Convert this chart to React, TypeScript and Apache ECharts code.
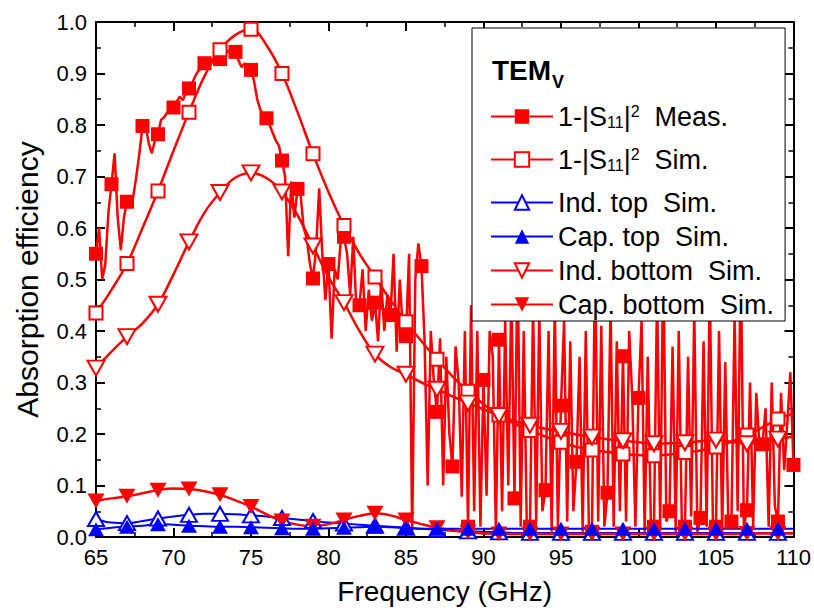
import React, { useEffect, useRef } from 'react';
import * as echarts from 'echarts';

const FONT = '"Liberation Sans", Arial, Helvetica, sans-serif';

// Measured 1-|S11|^2, sampled every 0.2 GHz from 65 GHz (markers every 1 GHz)
const measStart = 65;
const measStep = 0.2;
const measValues = [
  0.55, 0.60, 0.50, 0.53, 0.63,
  0.685, 0.745, 0.62, 0.557, 0.62,
  0.651, 0.645, 0.66, 0.70, 0.745,
  0.798, 0.80, 0.765, 0.745, 0.77,
  0.782, 0.81, 0.815, 0.825, 0.828,
  0.834, 0.845, 0.855, 0.848, 0.862,
  0.871, 0.88, 0.895, 0.905, 0.91,
  0.92, 0.918, 0.925, 0.93, 0.925,
  0.928, 0.935, 0.94, 0.945, 0.935,
  0.942, 0.925, 0.912, 0.92, 0.905,
  0.907, 0.885, 0.85, 0.83, 0.82,
  0.813, 0.80, 0.785, 0.77, 0.76,
  0.731, 0.70, 0.545, 0.69, 0.62,
  0.676, 0.665, 0.60, 0.58, 0.53,
  0.502, 0.56, 0.677, 0.55, 0.46,
  0.530, 0.385, 0.52, 0.50, 0.58,
  0.583, 0.55, 0.47, 0.583, 0.44,
  0.450, 0.52, 0.40, 0.48, 0.42,
  0.455, 0.38, 0.50, 0.40, 0.47,
  0.431, 0.55, 0.36, 0.50, 0.40,
  0.390, 0.55, 0.008, 0.50, 0.57,
  0.526, 0.38, 0.10, 0.40, 0.30,
  0.243, 0.386, 0.10, 0.35, 0.20,
  0.137, 0.37, 0.30, 0.078, 0.40,
  0.020, 0.45, 0.05, 0.40, 0.02,
  0.305, 0.08, 0.40, 0.35, 0.01,
  0.383, 0.05, 0.42, 0.10, 0.48,
  0.075, 0.55, 0.02, 0.40, 0.01,
  0.020, 0.45, 0.03, 0.44, 0.05,
  0.091, 0.40, 0.01, 0.45, 0.02,
  0.255, 0.42, 0.03, 0.38, 0.05,
  0.146, 0.35, 0.01, 0.40, 0.02,
  0.010, 0.55, 0.03, 0.41, 0.02,
  0.086, 0.45, 0.02, 0.38, 0.05,
  0.351, 0.03, 0.40, 0.27, 0.02,
  0.270, 0.42, 0.01, 0.35, 0.03,
  0.02, 0.48, 0.02, 0.55, 0.03,
  0.05, 0.37, 0.01, 0.40, 0.02,
  0.02, 0.35, 0.04, 0.44, 0.01,
  0.037, 0.38, 0.02, 0.50, 0.03,
  0.02, 0.40, 0.01, 0.34, 0.02,
  0.03, 0.43, 0.05, 0.55, 0.02,
  0.052, 0.30, 0.02, 0.28, 0.18,
  0.18, 0.25, 0.02, 0.30, 0.06,
  0.03, 0.28, 0.13, 0.22, 0.32,
  0.14,
];

// Simulated curves, every 1 GHz (markers every 2 GHz)
const simFreq = [
  65, 66, 67, 68, 69, 70, 71, 72, 73, 74, 75, 76, 77, 78, 79, 80,
  81, 82, 83, 84, 85, 86, 87, 88, 89, 90, 91, 92, 93, 94, 95, 96,
  97, 98, 99, 100, 101, 102, 103, 104, 105, 106, 107, 108, 109, 110,
];
const simS11 = [
  0.435, 0.48, 0.531, 0.60, 0.672, 0.75, 0.825, 0.895, 0.946, 0.975, 0.986, 0.955, 0.900, 0.825, 0.744, 0.67,
  0.605, 0.55, 0.505, 0.46, 0.418, 0.38, 0.345, 0.312, 0.283, 0.258, 0.237, 0.22, 0.207, 0.195, 0.184, 0.175,
  0.169, 0.165, 0.161, 0.159, 0.158, 0.16, 0.164, 0.168, 0.175, 0.185, 0.198, 0.213, 0.229, 0.24,
];
const indTop = [
  0.035, 0.028, 0.027, 0.031, 0.036, 0.04, 0.043, 0.045, 0.045, 0.044, 0.042, 0.04, 0.037, 0.034, 0.031, 0.028,
  0.026, 0.024, 0.022, 0.02, 0.018, 0.016, 0.014, 0.012, 0.011, 0.01, 0.009, 0.008, 0.008, 0.008, 0.008, 0.008,
  0.008, 0.008, 0.008, 0.008, 0.008, 0.008, 0.008, 0.008, 0.008, 0.008, 0.008, 0.008, 0.008, 0.008,
];
const capTop = [
  0.015, 0.018, 0.02, 0.022, 0.025, 0.024, 0.022, 0.021, 0.02, 0.02, 0.019, 0.018, 0.017, 0.016, 0.016, 0.017,
  0.018, 0.019, 0.02, 0.019, 0.018, 0.016, 0.016, 0.016, 0.016, 0.016, 0.016, 0.016, 0.016, 0.016, 0.016, 0.016,
  0.016, 0.016, 0.016, 0.016, 0.016, 0.016, 0.016, 0.016, 0.016, 0.016, 0.016, 0.016, 0.016, 0.016,
];
const indBottom = [
  0.328, 0.36, 0.389, 0.415, 0.452, 0.51, 0.573, 0.63, 0.669, 0.698, 0.707, 0.697, 0.670, 0.625, 0.565, 0.505,
  0.455, 0.40, 0.355, 0.33, 0.316, 0.30, 0.287, 0.273, 0.26, 0.248, 0.236, 0.225, 0.217, 0.21, 0.205, 0.199,
  0.194, 0.19, 0.187, 0.184, 0.181, 0.182, 0.183, 0.186, 0.188, 0.185, 0.181, 0.185, 0.19, 0.195,
];
const capBottom = [
  0.070, 0.075, 0.079, 0.085, 0.091, 0.094, 0.093, 0.089, 0.082, 0.071, 0.059, 0.044, 0.031, 0.024, 0.021, 0.025,
  0.033, 0.041, 0.046, 0.042, 0.033, 0.025, 0.018, 0.013, 0.009, 0.007, 0.006, 0.006, 0.006, 0.006, 0.006, 0.006,
  0.006, 0.006, 0.006, 0.006, 0.006, 0.006, 0.006, 0.006, 0.006, 0.006, 0.007, 0.007, 0.007, 0.007,
];

const legendLabels: Record<string, string> = {
  meas: '1-|S{sub|11}|{sup|2}  Meas.',
  sim: '1-|S{sub|11}|{sup|2}  Sim.',
  indTop: 'Ind. top  Sim.',
  capTop: 'Cap. top  Sim.',
  indBottom: 'Ind. bottom  Sim.',
  capBottom: 'Cap. bottom  Sim.',
};

const RED = '#ff0000';
const BLUE = '#0000ff';

function simSeries(name: string, values: number[], opts: any) {
  return {
    name,
    type: 'line',
    data: simFreq.map((f, i) => [f, values[i]]),
    smooth: 0.4,
    showAllSymbol: true,
    symbolSize: (_v: any, p: any) =>
      p.dataIndex % 2 === 0 && p.dataIndex < simFreq.length - 1 ? opts.size : 0,
    ...opts.extra,
  };
}

export default function App() {
  const ref = useRef<HTMLDivElement>(null);
  useEffect(() => {
    const chart = echarts.init(ref.current!, null, { renderer: 'svg' });
    const axisCommon = {
      type: 'value',
      axisLine: { show: true, onZero: false, lineStyle: { color: '#000', width: 2 } },
      axisTick: { show: true, inside: true, length: 9, lineStyle: { color: '#000', width: 2 } },
      minorTick: { show: true, splitNumber: 2, length: 5, lineStyle: { color: '#000', width: 1.5 } },
      splitLine: { show: false },
    };
    const option: any = {
      animation: false,
      backgroundColor: '#fff',
      title: [
        {
          text: 'TEM',
          left: 492,
          top: 56,
          padding: 0,
          textStyle: { fontFamily: FONT, fontSize: 28, fontWeight: 'bold', color: '#000', lineHeight: 28 },
        },
        {
          text: 'V',
          left: 552,
          top: 73,
          padding: 0,
          textStyle: { fontFamily: FONT, fontSize: 18, fontWeight: 'bold', color: '#000', lineHeight: 18 },
        },
      ],
      grid: { left: 96, right: 18, top: 22, bottom: 77, containLabel: false },
      xAxis: [
        {
          ...axisCommon,
          position: 'bottom',
          min: 65,
          max: 110,
          interval: 5,
          axisLabel: { show: true, color: '#000', fontFamily: FONT, fontSize: 22, margin: 9 },
          name: 'Frequency (GHz)',
          nameLocation: 'middle',
          nameGap: 40,
          nameTextStyle: { color: '#000', fontFamily: FONT, fontSize: 28 },
        },
        {
          ...axisCommon,
          position: 'top',
          min: 65,
          max: 110,
          interval: 5,
          axisLabel: { show: false },
        },
      ],
      yAxis: [
        {
          ...axisCommon,
          position: 'left',
          min: 0,
          max: 1,
          interval: 0.1,
          axisLabel: {
            show: true, color: '#000', fontFamily: FONT, fontSize: 22, margin: 9,
            formatter: (v: number) => v.toFixed(1),
          },
          name: 'Absorption efficiency',
          nameLocation: 'middle',
          nameGap: 54,
          nameTextStyle: { color: '#000', fontFamily: FONT, fontSize: 30 },
        },
        {
          ...axisCommon,
          position: 'right',
          min: 0,
          max: 1,
          interval: 0.1,
          axisLabel: { show: false },
        },
      ],
      legend: {
        orient: 'vertical',
        left: 472,
        top: 28,
        padding: [75, 11, 3, 18],
        itemWidth: 62,
        itemHeight: 18,
        itemGap: 7,
        backgroundColor: '#fff',
        borderColor: '#000',
        borderWidth: 1,
        borderRadius: 0,
        data: ['meas', 'sim', 'indTop', 'capTop', 'indBottom', 'capBottom'],
        formatter: (n: string) => legendLabels[n],
        textStyle: {
          color: '#000',
          fontFamily: FONT,
          fontSize: 27,
          lineHeight: 27,
          rich: {
            sub: {
              fontFamily: FONT, fontSize: 16, color: '#000', lineHeight: 16,
              verticalAlign: 'bottom',
            },
            sup: {
              fontFamily: FONT, fontSize: 16, color: '#000', lineHeight: 16,
              verticalAlign: 'top', padding: [0, 0, 20, 0],
            },
          },
        },
      },
      series: [
        {
          name: 'meas',
          type: 'line',
          data: measValues.map((v, i) => [measStart + i * measStep, v]),
          symbol: 'rect',
          showAllSymbol: true,
          symbolSize: (_v: any, p: any) => (p.dataIndex % 5 === 0 ? 14 : 0),
          lineStyle: { color: RED, width: 2.5 },
          itemStyle: { color: RED },
        },
        simSeries('sim', simS11, {
          size: 13,
          extra: {
            symbol: 'rect',
            lineStyle: { color: RED, width: 2.5 },
            itemStyle: { color: '#fff', borderColor: RED, borderWidth: 2 },
          },
        }),
        simSeries('indTop', indTop, {
          size: [16, 14],
          extra: {
            symbol: 'triangle',
            lineStyle: { color: BLUE, width: 2 },
            itemStyle: { color: '#fff', borderColor: BLUE, borderWidth: 2 },
          },
        }),
        simSeries('capBottom_placeholder', capBottom, {
          size: [17, 15],
          extra: {
            symbol: 'triangle',
            symbolRotate: 180,
            lineStyle: { color: RED, width: 2.5 },
            itemStyle: { color: RED },
          },
        }),
        simSeries('capTop', capTop, {
          size: [16, 14],
          extra: {
            symbol: 'triangle',
            lineStyle: { color: BLUE, width: 2 },
            itemStyle: { color: BLUE },
          },
        }),
        simSeries('indBottom', indBottom, {
          size: [17, 15],
          extra: {
            symbol: 'triangle',
            symbolRotate: 180,
            lineStyle: { color: RED, width: 2.5 },
            itemStyle: { color: '#fff', borderColor: RED, borderWidth: 2 },
          },
        }),
      ].map((s: any) =>
        s.name === 'capBottom_placeholder' ? { ...s, name: 'capBottom' } : s
      ),
    };
    chart.setOption(option);
    return () => chart.dispose();
  }, []);
  return (
    <div
      ref={ref}
      style={{ position: 'absolute', left: 0, top: 0, width: 814, height: 614, background: '#fff' }}
    />
  );
}
